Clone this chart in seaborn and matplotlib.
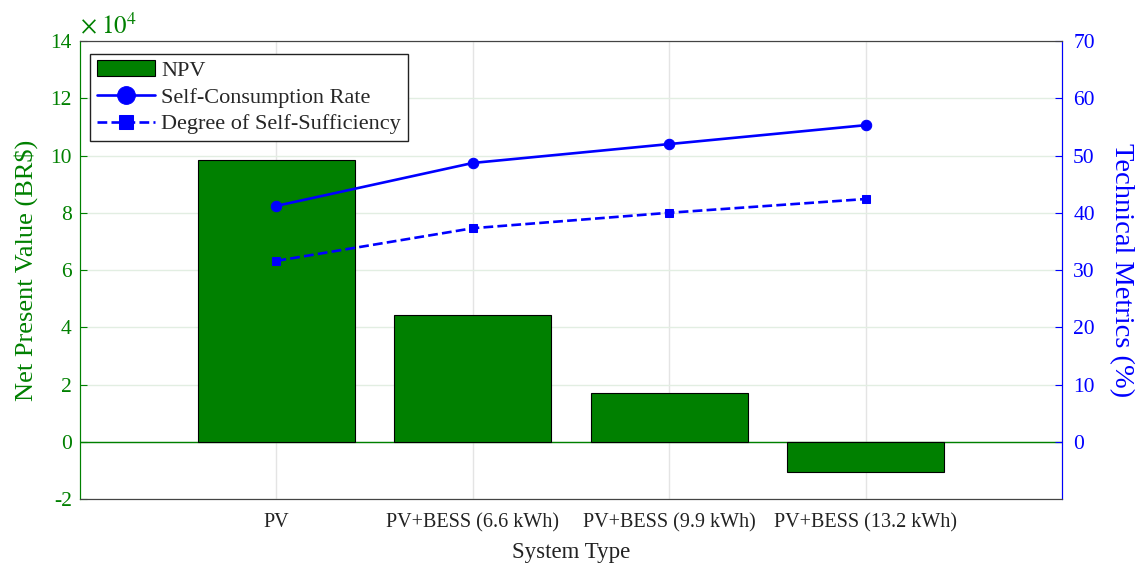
import numpy as np
import pandas as pd
import matplotlib
matplotlib.use("Agg")
import matplotlib.pyplot as plt
import seaborn as sns

# ==========================
# Dados
# ==========================
systems = ["PV", "PV+BESS (6.6 kWh)", "PV+BESS (9.9 kWh)", "PV+BESS (13.2 kWh)"]
npv = [98400, 44300, 17000, -10700]
self_consumption = [41.2, 48.7, 52.0, 55.3]
self_sufficiency = [31.6, 37.3, 40.0, 42.4]

npv_ticks = [-2, 0, 2, 4, 6, 8, 10, 12, 14]
pct_ticks = [0, 10, 20, 30, 40, 50, 60, 70]

sns.set_style("white")
plt.rcParams["font.family"] = ["Liberation Serif", "DejaVu Serif"]
plt.rcParams["mathtext.fontset"] = "stix"

GREEN = (0, 0.5, 0)
BLUE = (0, 0, 1)

df = pd.DataFrame({"system": systems, "npv": npv})
pos = np.arange(len(systems))

fig = plt.figure(figsize=(11.41, 5.65), dpi=100)
ax = fig.add_axes([0.0701, 0.1168, 0.8607, 0.8106])

sns.barplot(data=df, x="system", y="npv", ax=ax, color=GREEN, saturation=1,
            width=0.8, edgecolor="black", linewidth=0.8, zorder=2, label="NPV")
ax.axhline(0, color=GREEN, lw=1.0, zorder=1)

ax.set_xlim(-1, len(systems))
ax.set_ylim(-20000, 140000)
ax.set_yticks([t * 1e4 for t in npv_ticks])
ax.set_yticklabels([str(t) for t in npv_ticks])
ax.text(0.0, 1.006, r"$\times\;10^{4}$", transform=ax.transAxes, color=GREEN,
        fontsize=18, ha="left", va="bottom")

ax.grid(axis="x", color="#e4e4e4", lw=1.0, zorder=0)
ax.grid(axis="y", color="#e2eee2", lw=1.0, zorder=0)
ax.set_axisbelow(True)

ax.set_xlabel("System Type", fontsize=16.5, color="#222222", labelpad=7)
ax.set_ylabel("Net Present Value (BR$)", fontsize=19, color=GREEN, labelpad=9)
ax.tick_params(axis="x", direction="in", length=5, labelsize=14.5, colors="#333333",
               labelcolor="#222222", pad=10)
ax.tick_params(axis="y", direction="in", length=5, labelsize=15.5, colors=GREEN, pad=6)
ax.spines["left"].set_color(GREEN)
for s in ["top", "bottom"]:
    ax.spines[s].set_color("#444444")

# ==========================
# Eixo direito
# ==========================
ax2 = ax.twinx()
sns.lineplot(x=pos, y=self_consumption, ax=ax2, color=BLUE, lw=1.9, marker="o",
             markersize=7.5, markeredgecolor=BLUE, label="Self-Consumption Rate")
sns.lineplot(x=pos, y=self_sufficiency, ax=ax2, color=BLUE, lw=1.9, linestyle="--",
             marker="s", markersize=6, markeredgecolor=BLUE,
             label="Degree of Self-Sufficiency")
ax2.set_ylim(-10, 70)
ax2.set_yticks(pct_ticks)
ax2.set_ylabel("Technical Metrics (%)", fontsize=20.5, color=BLUE, rotation=270,
               labelpad=28)
ax2.tick_params(axis="y", direction="in", length=5, labelsize=15.5, colors=BLUE, pad=8)
ax2.spines["right"].set_color(BLUE)
ax2.spines["left"].set_color(GREEN)
ax2.spines["top"].set_color("#444444")
ax2.spines["bottom"].set_color("#444444")

h1, l1 = ax.get_legend_handles_labels()
h2, l2 = ax2.get_legend_handles_labels()
ax.legend_ = None
leg = ax2.legend(h1 + h2, l1 + l2, loc="upper left", bbox_to_anchor=(0.006, 0.982),
                 fontsize=16, frameon=True, fancybox=False, edgecolor="#222222",
                 framealpha=1, borderpad=0.3, labelspacing=0.28, handlelength=2.6,
                 handletextpad=0.3, borderaxespad=0.2, markerscale=1.7)
leg.get_frame().set_linewidth(1.0)

fig.savefig("out.png", dpi=100)
plt.close()
